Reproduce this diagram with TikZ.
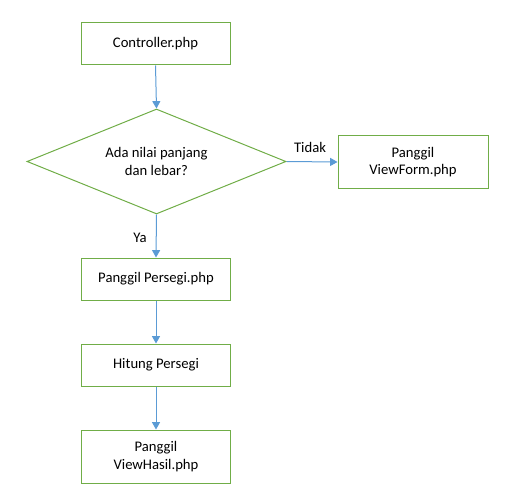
\documentclass[tikz,border=0pt]{standalone}
\usepackage{fontspec}
\setmainfont{Carlito}
\usetikzlibrary{shapes.geometric,arrows.meta}
\definecolor{boxgreen}{RGB}{112,173,71}
\definecolor{arrowblue}{RGB}{91,155,213}
\begin{document}
\begin{tikzpicture}[x=0.75pt,y=-0.75pt,
  every node/.style={font=\fontsize{11pt}{13pt}\selectfont, text=black},
  procbox/.style={draw=boxgreen, line width=0.75pt, rectangle, minimum width=149*0.75pt, minimum height=42*0.75pt, inner sep=0pt, align=center},
  decbox/.style={draw=boxgreen, line width=0.75pt, diamond, aspect=2.47, minimum width=259*0.75pt, minimum height=105*0.75pt, inner sep=0pt, align=center},
  flow/.style={draw=arrowblue, line width=0.75pt, -{Triangle[length=5.5pt,width=6pt]}},
  lbl/.style={inner sep=0pt}]
\useasboundingbox (0,0) rectangle (506,499);
\node[procbox] (ctrl) at (155.5,44) {Controller.php};
\node[decbox] (dec) at (156.5,161.5) {Ada nilai panjang\\dan lebar?};
\node[procbox, minimum width=150*0.75pt, minimum height=52*0.75pt] (form) at (413,162) {Panggil\\ViewForm.php};
\node[procbox] (pers) at (156,279) {Panggil Persegi.php};
\node[procbox] (hit) at (156,365) {Hitung Persegi};
\node[procbox, minimum height=53*0.75pt] (hasil) at (156,456.5) {Panggil\\ViewHasil.php};
\draw[flow] (ctrl.south) -- (dec.north);
\draw[flow] (dec.east) -- (form.west);
\draw[flow] (dec.south) -- (pers.north);
\draw[flow] (pers.south) -- (hit.north);
\draw[flow] (hit.south) -- (hasil.north);
\node[lbl] (tidak) at (310,147) {Tidak};
\node[lbl] (ya) at (140,238) {Ya};
\end{tikzpicture}
\end{document}
